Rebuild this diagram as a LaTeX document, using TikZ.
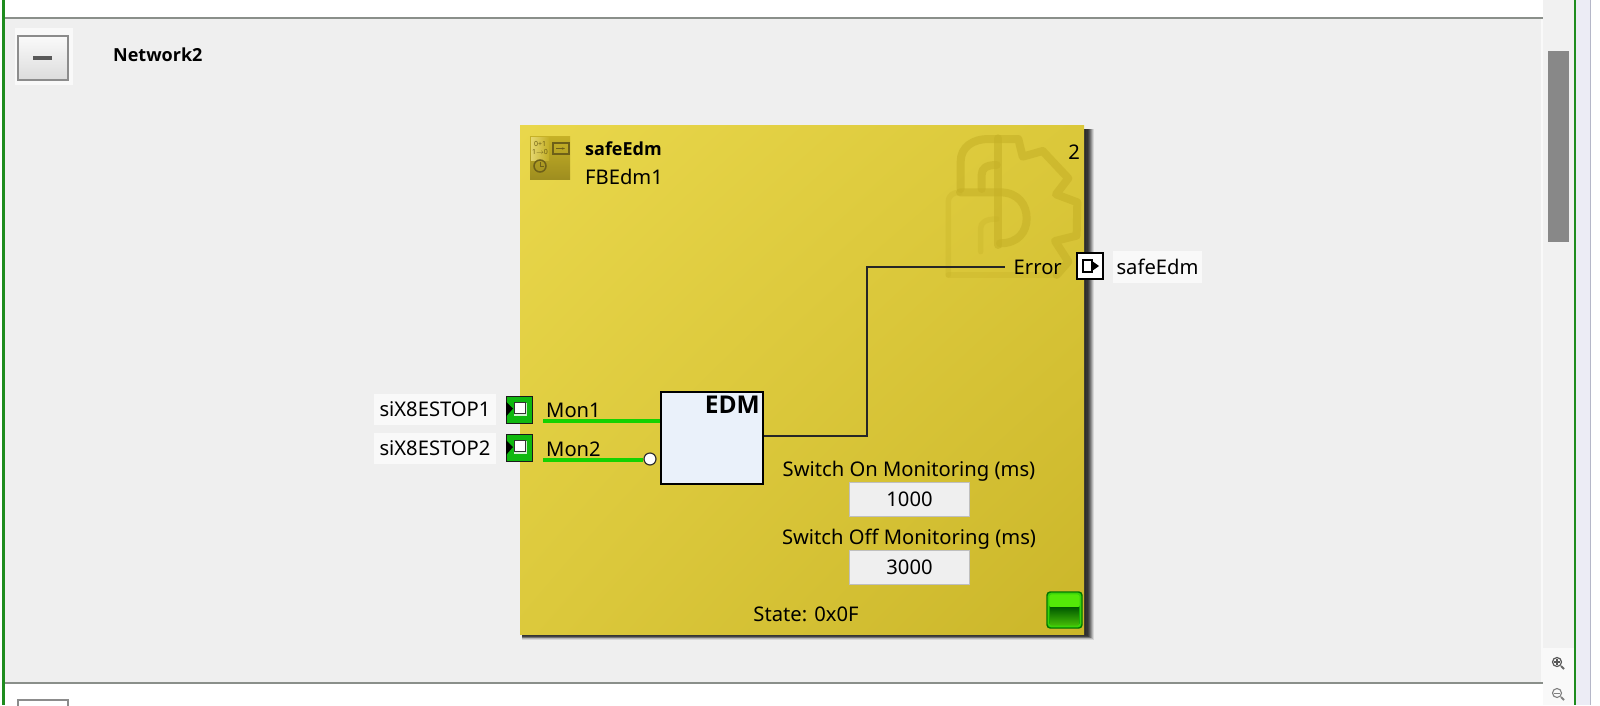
\documentclass[tikz,border=0pt]{standalone}
\usepackage{fontspec}
\setmainfont{Noto Sans}
\newfontfamily\boldfam{Open Sans}
\usetikzlibrary{calc,arrows.meta,shadings}
\definecolor{panel}{HTML}{EFEFEF}
\definecolor{rulegray}{HTML}{8A8F8A}
\definecolor{frameg}{HTML}{1E8C1E}
\definecolor{sidebar}{HTML}{F1F1F1}
\definecolor{sidelav}{HTML}{ECECF5}
\definecolor{sideline}{HTML}{B5B7C8}
\definecolor{thumb}{HTML}{888888}
\definecolor{blockUL}{HTML}{E9D74B}
\definecolor{blockUR}{HTML}{DBC83A}
\definecolor{blockLL}{HTML}{DCC93C}
\definecolor{blockLR}{HTML}{CBB62A}
\definecolor{wmcol}{HTML}{C6B127}
\definecolor{wiregreen}{HTML}{14D200}
\definecolor{pingreen}{HTML}{0FB80F}
\definecolor{edmfill}{HTML}{EAF1FA}
\definecolor{dark}{HTML}{1A1A1A}
\definecolor{ledtop}{HTML}{54E808}
\definecolor{ledrim}{HTML}{3CD20A}
\definecolor{icondark}{HTML}{6E6018}
\tikzset{
  x=1pt,y=-1pt,
  txt/.style={inner sep=0pt,text=black,font=\fontsize{20.2}{24}\selectfont},
  boldtxt/.style={inner sep=0pt,text=black,font=\boldfam\fontsize{18}{22}\selectfont\bfseries},
  tag/.style={fill=#1,inner sep=0pt,text=black,font=\fontsize{20.2}{24}\selectfont},
  valbox/.style={draw=black!25,fill=panel,line width=1pt,minimum width=120pt,minimum height=34pt,inner sep=0pt,text=black,font=\fontsize{20.2}{24}\selectfont},
  pinbox/.style={draw=dark,fill=pingreen,line width=1pt,minimum width=26pt,minimum height=27pt,inner sep=0pt},
  outpin/.style={draw=black,fill=white,line width=1.2pt,minimum width=26pt,minimum height=26pt,inner sep=0pt},
  funcbox/.style={draw=black,fill=edmfill,line width=2pt,minimum width=102pt,minimum height=92pt,inner sep=0pt},
  wireG/.style={draw=wiregreen,line width=4pt},
  wireK/.style={draw=black!85,line width=2pt},
  wm/.style={draw=wmcol,line width=8pt,opacity=.6,line join=round,line cap=round},
  wmlock/.style={draw=wmcol,line width=5.5pt,opacity=.3,line join=round,line cap=round},
}
\begin{document}
\begin{tikzpicture}
\useasboundingbox (0,0) rectangle (1600,705);
\clip (0,0) rectangle (1600,705);
\fill[white] (0,0) rectangle (1600,705);
% panel
\fill[panel] (4,18) rectangle (1543,683);
\fill[white!60!panel] (1541,18) rectangle (1543,683);
\draw[rulegray,line width=2.4pt] (4,18) -- (1543,18);
\draw[rulegray,line width=2.4pt] (4,683) -- (1543,683);
\draw[frameg,line width=2.4pt] (3.5,0) -- (3.5,705);
% side column
\fill[sidebar] (1543,0) rectangle (1574,648);
\fill[white!55!sidebar] (1543,648) rectangle (1574,705);
\fill[sidelav] (1576,0) rectangle (1590,705);
\draw[frameg,line width=2pt] (1574.5,0) -- (1574.5,705);
\draw[sideline,line width=1.5pt] (1590.5,0) -- (1590.5,705);
\fill[thumb] (1548,51) rectangle (1569,242);
% zoom icons
\draw[black!65,line width=1.2pt] (1557,662) circle (4.5);
\draw[black!65,line width=1.2pt] (1554,662) -- (1560,662) (1557,659) -- (1557,665);
\draw[black!60,line width=2pt] (1561,666) -- (1564,669);
\draw[black!50,line width=1.1pt] (1557,693) circle (4.5);
\draw[black!50,line width=1pt] (1554,693) -- (1560,693);
\draw[black!50,line width=2pt] (1561,697) -- (1564,700);
% collapse button
\fill[white!60!panel] (15,28) rectangle (73,85);
\shade[top color=white!70!panel,bottom color=panel!92!black] (18,36) rectangle (68,80);
\draw[black!45,line width=1.8pt] (18,36) rectangle (68,80);
\fill[black!65] (33,55.5) rectangle (52,60);
\node[boldtxt,anchor=west] (title) at (113,55) {Network2};
% next button top
\draw[black!45,line width=1.8pt] (18,707) -- (18,700) -- (68,700) -- (68,707);
% shadow
\foreach \d/\o in {10/.10,9/.14,8/.18,7/.22,6/.24,5/.24,3.5/.2,2/.12}{
  \fill[black,opacity=\o] (522,129) rectangle (1084+\d,634+\d*0.55);
}
% block
\shade[upper left=blockUL,upper right=blockUR,lower left=blockLL,lower right=blockLR]
  (520,125) rectangle (1084,634);
% watermark gear/lock
\begin{scope}[shift={(900,115)},x=0.3333pt,y=-0.3333pt]
  \draw[wm] (182,222) -- (182,140) .. controls (182,95) and (220,72) .. (265,72) -- (355,72) -- (368,125) -- (428,108) -- (505,190) -- (468,238) -- (532,262) -- (530,362) -- (465,378) -- (505,440) -- (470,480);
  \draw[wm] (295,70) -- (295,390);
  \draw[wm] (245,222) -- (245,180) .. controls (245,160) and (258,150) .. (290,150);
  \draw[wm] (180,232) -- (300,232) .. controls (355,232) and (380,270) .. (380,310) .. controls (380,350) and (355,385) .. (300,385);
  \draw[wmlock] (145,480) -- (145,262) .. controls (145,240) and (160,232) .. (180,232);
  \draw[wmlock] (242,410) -- (242,340) .. controls (242,322) and (258,312) .. (290,312);
  \draw[wmlock] (145,480) -- (470,480);
\end{scope}
% block icon
\shade[top color=wmcol,bottom color=wmcol!80!black] (530,136) rectangle (570,179);
\shade[left color=white!30!blockUL,right color=wmcol,opacity=.8] (531,137) rectangle (549,160);
\draw[icondark,line width=1.2pt] (553,143) rectangle (569,154);
\draw[icondark,line width=1pt,-{Stealth[length=3pt]}] (556,148.5) -- (565,148.5);
\draw[icondark,line width=1.5pt] (540,166) circle (6);
\draw[icondark,line width=1pt] (540,162) -- (540,166) -- (544,166);
\node[inner sep=0pt,text=icondark,font=\fontsize{7}{8}\selectfont,align=center] (icontext) at (540,147.5) {0+1\\1$\to$0};
% block texts
\node[boldtxt,anchor=west] (bname) at (585,149) {safeEdm};
\node[txt,anchor=west] (iname) at (585,177) {FBEdm1};
\node[txt,anchor=east] (num) at (1080,152) {2};
\node[txt,anchor=east] (err) at (1062,267) {Error};
\node[txt,anchor=west] (m1txt) at (546,410) {Mon1};
\node[txt,anchor=west] (m2txt) at (546,449) {Mon2};
\node[txt] (on) at (909,471) {Switch On Monitoring (ms)};
\node[valbox] (v1) at (909.5,499) {1000};
\node[txt] (off) at (909,539) {Switch Off Monitoring (ms)};
\node[valbox] (v2) at (909.5,567.5) {3000};
\node[txt] (state) at (806,614) {State: 0x0F};
% function box
\node[funcbox] (edm) at (711.5,437.5) {};
\node[boldtxt,anchor=north east,font=\boldfam\fontsize{24.5}{26}\selectfont\bfseries] (edmtxt) at (760,396) {EDM};
% wires
\coordinate (m1s) at (543,421);
\coordinate (m2s) at (543,459.5);
\coordinate (errEnd) at (1005,267);
\coordinate (edmOut) at (763,436);
\draw[wireG] (m1s) -- (edm.west |- m1s);
\node[draw=black!80,fill=white,circle,line width=1.2pt,minimum size=12pt,inner sep=0pt] (neg) at (650,459) {};
\draw[wireG] (m2s) -- (neg.west |- m2s);
\draw[wireK] (edm.east |- edmOut) -- (867,436) -- (867,267) -- (errEnd);
% input pins
\foreach \n/\y/\t in {a/409.5/siX8ESTOP1,b/448/siX8ESTOP2}{
  \node[tag=panel!40!white,minimum width=122pt,minimum height=31pt] (lab\n) at (435,\y) {\t};
  \node[pinbox] (pin\n) at (519,\y) {};
  \fill[white!80!pingreen] ($(pin\n)+(-5,-7)$) rectangle ($(pin\n)+(8,6)$);
  \draw[black!80,line width=1pt,fill=white] ($(pin\n)+(-5,-7.5)$) rectangle ($(pin\n)+(6,3.5)$);
  \fill[black] ($(pin\n)+(-13,-8)$) -- ($(pin\n)+(-6,-1)$) -- ($(pin\n)+(-13,7)$) -- cycle;
}
% output pin
\node[outpin] (opin) at (1090,266) {};
\draw[black,line width=1.6pt,fill=white] ($(opin)+(-7,-6)$) -- ($(opin)+(2,-6)$) -- ($(opin)+(2,6)$) -- ($(opin)+(-7,6)$) -- cycle;
\fill[black] ($(opin)+(2,-5)$) -- ($(opin)+(9,0)$) -- ($(opin)+(2,5)$) -- cycle;
\node[tag=panel!40!white,minimum width=89pt,minimum height=32pt] (olab) at (1157.5,266.5) {safeEdm};
% LED
\node[draw=green!45!black,fill=green!60!black,rounded corners=3pt,line width=1.2pt,minimum width=35pt,minimum height=36pt,inner sep=0pt] (led) at (1064.5,610) {};
\fill[ledtop,rounded corners=2pt] (1049,594) rectangle (1080,607);
\shade[top color=green!35!black,bottom color=ledtop!80!black] (1050,607) rectangle (1079,625);
\draw[ledrim,line width=1.8pt,rounded corners=3pt] (1048.5,593.5) rectangle (1080.5,626.5);
\end{tikzpicture}
\end{document}
